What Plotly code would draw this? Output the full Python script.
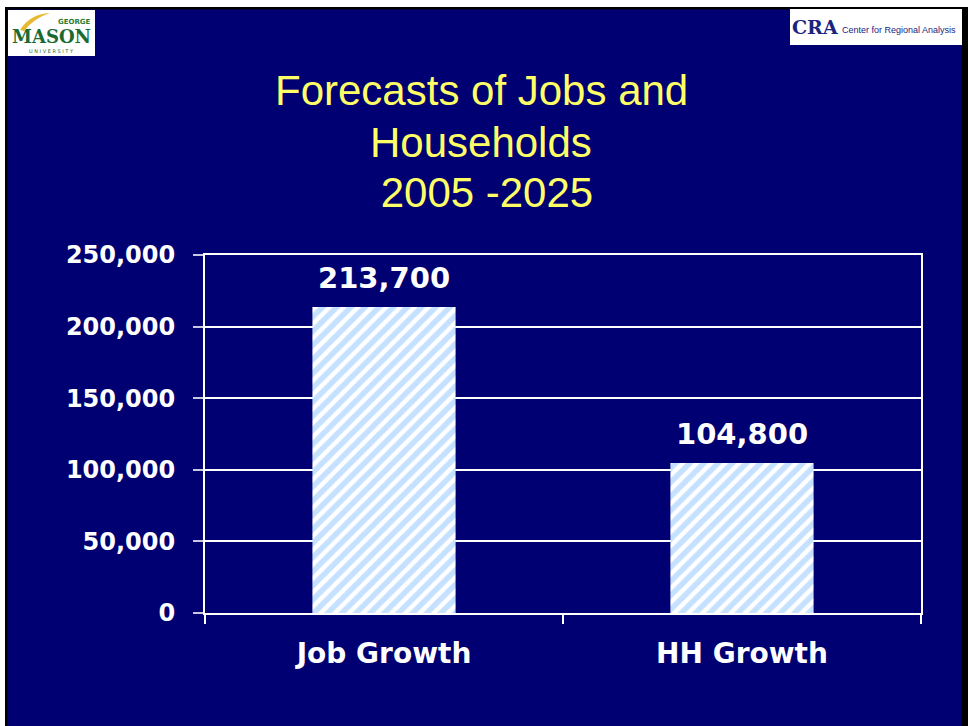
import plotly.graph_objects as go

# Forecast growth, 2005-2025
categories = ["Job Growth", "HH Growth"]
growth = [213700, 104800]
y_ticks = [0, 50000, 100000, 150000, 200000, 250000]
title_lines = ["Forecasts of Jobs and", "Households", "\u00a02005 -2025"]

W, H = 968, 726
L, R, T, B = 205, 47, 255, 113
PW, PH = W - L - R, H - T - B

NAVY = "#000072"
YELLOW = "#FFFF66"


def fx(px):
    return (px - L) / PW


def fy(py):
    return (H - B - py) / PH


fig = go.Figure()

fig.add_trace(go.Bar(
    x=categories,
    y=growth,
    width=0.4,
    marker=dict(
        color="white",
        line=dict(width=0),
        pattern=dict(shape="/", fgcolor="#8CC4FF", bgcolor="white",
                     size=10, solidity=0.55),
    ),
    hoverinfo="skip",
))

# value labels above each bar
for c, v in zip(categories, growth):
    fig.add_annotation(
        x=c, y=v, xref="x", yref="y", text=f"{v:,}", showarrow=False,
        yanchor="bottom", yshift=10,
        font=dict(family="DejaVu Sans", size=29, color="white", weight="bold"),
    )

# slide title, one line per annotation
for line, ypx in zip(title_lines, [91, 142, 192]):
    fig.add_annotation(
        x=fx(481), y=fy(ypx), xref="paper", yref="paper", text=line,
        showarrow=False, xanchor="center", yanchor="middle",
        font=dict(family="Liberation Sans, Arial", size=42, color=YELLOW),
    )

shapes = []
# slide frame: white margin with dark edge
shapes.append(dict(type="rect", xref="paper", yref="paper", layer="above",
                   x0=fx(0), x1=fx(W), y0=fy(0), y1=fy(7),
                   fillcolor="white", line=dict(width=0)))
shapes.append(dict(type="rect", xref="paper", yref="paper", layer="above",
                   x0=fx(0), x1=fx(5), y0=fy(0), y1=fy(H),
                   fillcolor="white", line=dict(width=0)))
shapes.append(dict(type="rect", xref="paper", yref="paper", layer="above",
                   x0=fx(5), x1=fx(7.5), y0=fy(7), y1=fy(H),
                   fillcolor="black", line=dict(width=0)))
shapes.append(dict(type="rect", xref="paper", yref="paper", layer="above",
                   x0=fx(5), x1=fx(W), y0=fy(7), y1=fy(9.5),
                   fillcolor="black", line=dict(width=0)))
shapes.append(dict(type="rect", xref="paper", yref="paper", layer="above",
                   x0=fx(962), x1=fx(W), y0=fy(7), y1=fy(H),
                   fillcolor="black", line=dict(width=0)))

# university logo box
shapes.append(dict(type="rect", xref="paper", yref="paper", layer="above",
                   x0=fx(8), x1=fx(95), y0=fy(10), y1=fy(56),
                   fillcolor="white", line=dict(width=0)))
shapes.append(dict(type="path", xref="paper", yref="paper", layer="above",
                   path=(f"M {fx(20)},{fy(30)} Q {fx(30)},{fy(14)} {fx(50)},{fy(13)} "
                         f"Q {fx(34)},{fy(18)} {fx(24)},{fy(31)} Z"),
                   fillcolor="#E8B830", line=dict(width=0)))
# regional analysis logo box
shapes.append(dict(type="rect", xref="paper", yref="paper", layer="above",
                   x0=fx(790), x1=fx(962), y0=fy(9), y1=fy(45),
                   fillcolor="white", line=dict(width=0)))
fig.update_layout(shapes=shapes)

fig.add_annotation(x=fx(93), y=fy(22), xref="paper", yref="paper", showarrow=False,
                   text="<b>GEORGE</b>", xanchor="right", yanchor="middle",
                   font=dict(family="DejaVu Sans", size=7, color="#2E7D32"))
fig.add_annotation(x=fx(51), y=fy(37), xref="paper", yref="paper", showarrow=False,
                   text="<b>MASON</b>", xanchor="center", yanchor="middle",
                   font=dict(family="DejaVu Serif", size=18, color="#1B6B30"))
fig.add_annotation(x=fx(51), y=fy(51), xref="paper", yref="paper", showarrow=False,
                   text="U N I V E R S I T Y", xanchor="center", yanchor="middle",
                   font=dict(family="DejaVu Sans", size=5, color="#1B6B30"))
fig.add_annotation(x=fx(790), y=fy(27), xref="paper", yref="paper", showarrow=False,
                   text="<b>CRA</b>", xanchor="left", yanchor="middle",
                   font=dict(family="DejaVu Serif", size=19, color="#1A237E"))
fig.add_annotation(x=fx(840), y=fy(30), xref="paper", yref="paper", showarrow=False,
                   text="Center for Regional Analysis", xanchor="left", yanchor="middle",
                   font=dict(family="Liberation Sans", size=9, color="#1A237E"))

fig.update_xaxes(
    type="category",
    tickson="boundaries",
    ticks="outside", ticklen=9, tickwidth=2, tickcolor="white",
    showline=True, linecolor="white", linewidth=2, mirror=True,
    showgrid=False,
    tickfont=dict(family="DejaVu Sans", size=28, color="white", weight="bold"),
    ticklabelstandoff=14,
)
fig.update_yaxes(
    range=[0, 250000],
    tickvals=y_ticks,
    tickformat=",",
    ticks="outside", ticklen=10, tickwidth=2, tickcolor="#C8C8E0",
    showline=True, linecolor="white", linewidth=2, mirror=True,
    showgrid=True, gridcolor="white", gridwidth=1.5,
    zeroline=False,
    tickfont=dict(family="DejaVu Sans", size=24, color="white", weight="bold"),
    ticklabelstandoff=13,
)

fig.update_layout(
    width=W, height=H,
    margin=dict(l=L, r=R, t=T, b=B, pad=0),
    paper_bgcolor=NAVY,
    plot_bgcolor=NAVY,
    showlegend=False,
    bargap=0.6,
)

fig.write_html("out.html", config={"displayModeBar": False})
